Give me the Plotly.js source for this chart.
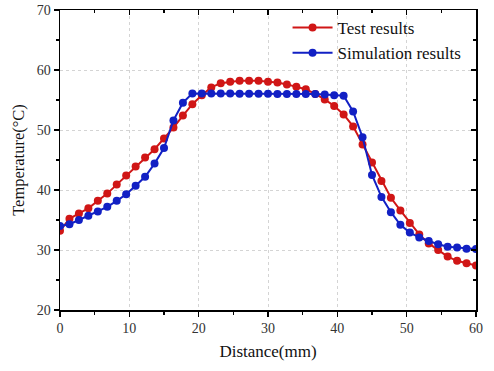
<!DOCTYPE html>
<html>
<head>
<meta charset="utf-8">
<script src="https://cdn.plot.ly/plotly-3.0.1.min.js"></script>
<style>html,body{margin:0;padding:0;background:#fff;}#chart{width:494px;height:371px;}</style>
</head>
<body>
<div id="chart"></div>
<script>
// Distance sample positions (mm): 45 evenly spaced points from 0 to 60
const nPoints = 45;
const distance = Array.from({length: nPoints}, (_, i) => i * 60 / (nPoints - 1));

const testResults = [
  33.2, 35.2, 36.1, 36.95, 38.2, 39.4, 40.9, 42.4, 43.9, 45.4,
  46.8, 48.6, 50.4, 52.4, 54.3, 55.8, 57.1, 57.8, 58.05, 58.2,
  58.2, 58.2, 58.05, 57.9, 57.6, 57.2, 56.8, 56.0, 55.1, 54.0,
  52.6, 50.6, 47.6, 44.6, 41.5, 38.7, 36.6, 34.5, 32.6, 31.1,
  30.0, 28.9, 28.2, 27.8, 27.4
];

const simulationResults = [
  34.0, 34.3, 35.0, 35.7, 36.4, 37.2, 38.2, 39.3, 40.7, 42.2,
  44.4, 47.0, 51.6, 54.55, 56.1, 56.1, 56.1, 56.1, 56.1, 56.05,
  56.05, 56.05, 56.05, 56.0, 56.0, 56.0, 56.0, 56.0, 55.9, 55.8,
  55.7, 53.1, 48.8, 42.5, 38.85, 36.3, 34.2, 32.9, 32.1, 31.5,
  30.95, 30.55, 30.4, 30.2, 30.15
];

const seriesNames = ['Test results', 'Simulation results'];
const xTickVals = [0, 10, 20, 30, 40, 50, 60];
const yTickVals = [20, 30, 40, 50, 60, 70];

const red = 'rgb(208,22,22)';
const blue = 'rgb(18,32,196)';
const serif = 'Liberation Serif, Times New Roman, serif';

const traces = [
  {x: distance, y: testResults, name: seriesNames[0], type: 'scatter', mode: 'lines+markers',
   line: {color: red, width: 2}, marker: {color: red, size: 8, symbol: 'circle'}},
  {x: distance, y: simulationResults, name: seriesNames[1], type: 'scatter', mode: 'lines+markers',
   line: {color: blue, width: 2}, marker: {color: blue, size: 8, symbol: 'circle'}},
  {x: [0, 60], y: [20, 70], xaxis: 'x2', yaxis: 'y2', mode: 'markers', marker: {opacity: 0},
   showlegend: false, hoverinfo: 'skip'}
];

const axisCommon = {
  showline: true, linecolor: '#000', linewidth: 1.5,
  tickcolor: '#000', tickwidth: 1.2, ticklen: 5,
  tickfont: {family: serif, size: 14, color: '#333'},
  zeroline: false
};

const layout = {
  width: 494, height: 371,
  margin: {l: 60, r: 18, t: 10, b: 61},
  paper_bgcolor: '#fff', plot_bgcolor: '#fff',
  font: {family: serif, color: '#222'},
  showlegend: true,
  legend: {x: 0.547, y: 1.0, xanchor: 'left', yanchor: 'top', bgcolor: 'rgba(0,0,0,0)',
    font: {family: serif, size: 17, color: '#111'}, itemwidth: 40, tracegroupgap: 0},
  xaxis: Object.assign({}, axisCommon, {
    range: [0, 60], tickvals: xTickVals, ticks: 'outside',
    showgrid: true, gridcolor: '#d4d4d4', griddash: 'dot', gridwidth: 1,
    minor: {dtick: 5, tick0: 0, ticks: 'outside', ticklen: 3, tickcolor: '#000', showgrid: false},
    title: {text: 'Distance(mm)', font: {family: serif, size: 17, color: '#111'}, standoff: 10}
  }),
  yaxis: Object.assign({}, axisCommon, {
    range: [20, 70], tickvals: yTickVals, ticks: 'outside',
    showgrid: true, gridcolor: '#d4d4d4', griddash: 'dot', gridwidth: 1,
    minor: {dtick: 5, tick0: 0, ticks: 'outside', ticklen: 3, tickcolor: '#000', showgrid: false},
    title: {text: 'Temperature(°C)', font: {family: serif, size: 16.5, color: '#111'}, standoff: 8}
  }),
  xaxis2: Object.assign({}, axisCommon, {
    overlaying: 'x', side: 'top', anchor: 'y2', range: [0, 60], tickvals: xTickVals,
    ticks: 'inside', showticklabels: false, showgrid: false,
    minor: {dtick: 5, tick0: 0, ticks: 'inside', ticklen: 3, tickcolor: '#000', showgrid: false}
  }),
  yaxis2: Object.assign({}, axisCommon, {
    overlaying: 'y', side: 'right', anchor: 'x2', range: [20, 70], tickvals: yTickVals,
    ticks: 'inside', showticklabels: false, showgrid: false,
    minor: {dtick: 5, tick0: 0, ticks: 'inside', ticklen: 3, tickcolor: '#000', showgrid: false}
  })
};

Plotly.newPlot('chart', traces, layout, {displayModeBar: false, staticPlot: true});
</script>
</body>
</html>
